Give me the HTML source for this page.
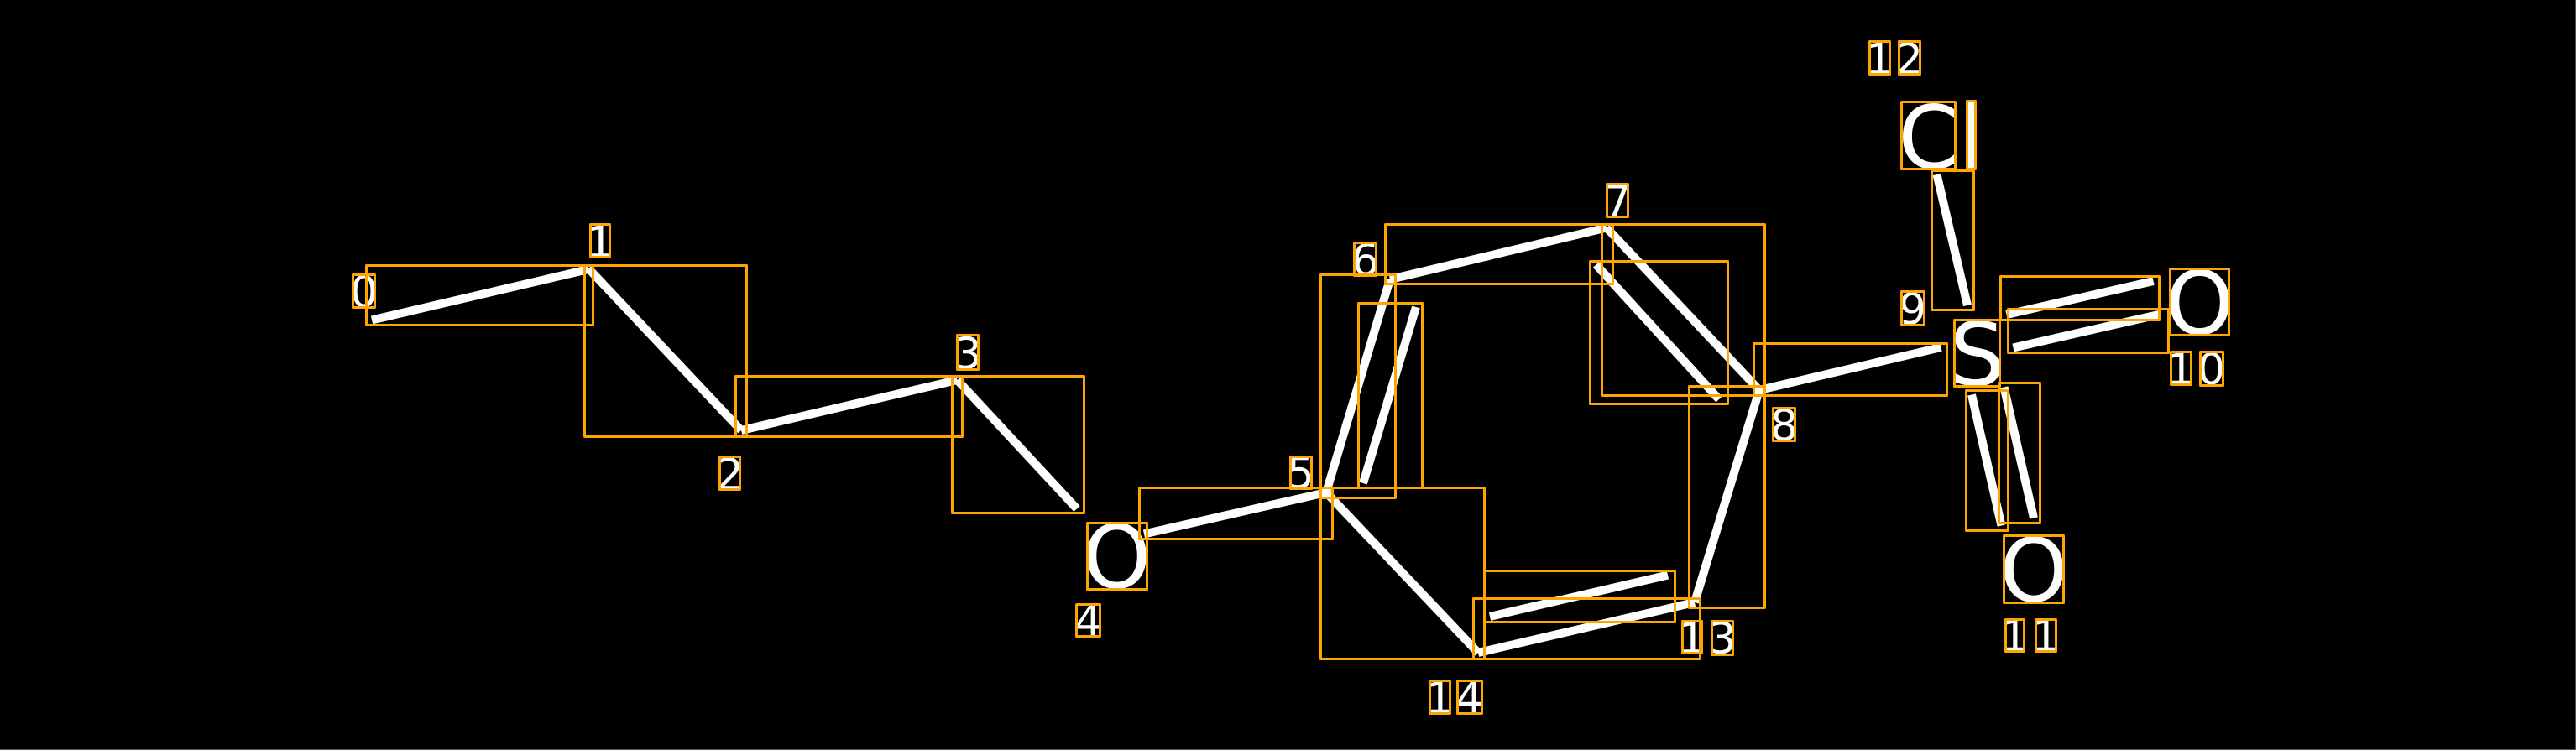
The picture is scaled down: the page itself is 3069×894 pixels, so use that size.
<!DOCTYPE html>
<html><head><meta charset="utf-8"><style>
html,body{margin:0;padding:0;background:#000;width:3069px;height:894px;overflow:hidden}
svg{display:block}
text{font-family:"DejaVu Sans","Liberation Sans",sans-serif;fill:#fff;text-anchor:middle}
.n{font-size:52px}
.a{font-size:104px}
.w line{stroke:#fff;stroke-width:10}
.o rect{fill:none;stroke:#ffa500;stroke-width:3;stroke-linejoin:round}
</style></head><body>
<svg width="3069" height="894" viewBox="0 0 3069 894" xmlns="http://www.w3.org/2000/svg">
<rect width="3069" height="894" fill="#000"/>
<rect x="3068" y="0" width="1" height="894" fill="#555"/>
<rect x="0" y="893" width="3069" height="1" fill="#555"/>
<g class="w">
<line x1="443" y1="381.5" x2="701" y2="321"/>
<line x1="701" y1="320" x2="883" y2="513"/>
<line x1="883" y1="513" x2="1140.5" y2="453"/>
<line x1="1140.5" y1="453" x2="1283" y2="606.5"/>
<line x1="1363" y1="636.5" x2="1580" y2="587"/>
<line x1="1580" y1="587" x2="1761" y2="778"/>
<line x1="1761" y1="778" x2="2019" y2="718"/>
<line x1="1775" y1="735" x2="1987" y2="685.5"/>
<line x1="2019" y1="718" x2="2096" y2="465"/>
<line x1="1580" y1="587" x2="1656" y2="333"/>
<line x1="1624" y1="576" x2="1687" y2="366"/>
<line x1="1656" y1="333" x2="1914" y2="271.5"/>
<line x1="1914" y1="271.5" x2="2096" y2="465"/>
<line x1="1901.5" y1="315.5" x2="2048" y2="476"/>
<line x1="2096" y1="465" x2="2312.5" y2="414"/>
<line x1="2307.5" y1="208" x2="2344" y2="364"/>
<line x1="2390.5" y1="375" x2="2565.5" y2="335"/>
<line x1="2398.5" y1="414.5" x2="2574" y2="374.5"/>
<line x1="2349" y1="470.5" x2="2384.5" y2="626.5"/>
<line x1="2387.5" y1="461.5" x2="2423" y2="617.5"/>
</g>
<g>
<text class="n" x="433.5" y="366">0</text>
<text class="n" x="715" y="306.5">1</text>
<text class="n" x="869.5" y="583.5">2</text>
<text class="n" x="1153" y="439.5">3</text>
<text class="n" x="1296.5" y="758.5">4</text>
<text class="n" x="1549.5" y="582">5</text>
<text class="n" x="1626.5" y="328">6</text>
<text class="n" x="1927" y="258">7</text>
<text class="n" x="2125.5" y="525">8</text>
<text class="n" x="2278.5" y="386.5">9</text>
<text class="n" x="2598" y="458">1</text>
<text class="n" x="2634.5" y="458">0</text>
<text class="n" x="2400" y="776">1</text>
<text class="n" x="2437" y="776">1</text>
<text class="n" x="2239" y="88.5">1</text>
<text class="n" x="2274.5" y="88.5">2</text>
<text class="n" x="2016" y="778.5">1</text>
<text class="n" x="2052" y="779">3</text>
<text class="n" x="1715" y="850">1</text>
<text class="n" x="1750.5" y="850">4</text>
<text class="a" x="1330.5" y="700.5">O</text>
<text class="a" x="2355.5" y="459">S</text>
<text class="a" x="2620.5" y="398">O</text>
<text class="a" x="2423" y="716.5">O</text>
<text class="a" x="2297.5" y="200.5">C</text>
<text class="a" x="2348.3" y="200.5">l</text>
</g>
<g class="o">
<rect x="436.5" y="316.5" width="270" height="71"/>
<rect x="696.5" y="316.5" width="193" height="204"/>
<rect x="876.5" y="448.5" width="270" height="72"/>
<rect x="1134.5" y="448.5" width="157" height="163"/>
<rect x="1357.5" y="581.5" width="230" height="61"/>
<rect x="1573.5" y="581.5" width="195" height="204"/>
<rect x="1755.5" y="713.5" width="270" height="72"/>
<rect x="1768.5" y="680.5" width="227" height="61"/>
<rect x="2012.5" y="460.5" width="90" height="264"/>
<rect x="1573.5" y="327.5" width="89" height="266"/>
<rect x="1618.5" y="361.5" width="76" height="220"/>
<rect x="1650.5" y="267.5" width="271" height="71"/>
<rect x="1908.5" y="267.5" width="194" height="204"/>
<rect x="1894.5" y="311.5" width="164" height="170"/>
<rect x="2089.5" y="409.5" width="230" height="62"/>
<rect x="2301.5" y="203.5" width="50" height="166"/>
<rect x="2383.5" y="329.5" width="189" height="52"/>
<rect x="2392.5" y="368.5" width="191" height="52"/>
<rect x="2342.5" y="465.5" width="50" height="167"/>
<rect x="2381.5" y="456.5" width="49" height="167"/>
<rect x="420.5" y="327.5" width="26" height="39"/>
<rect x="703.5" y="267.5" width="23" height="39"/>
<rect x="857.5" y="544.5" width="24" height="39"/>
<rect x="1140.5" y="399.5" width="25" height="41"/>
<rect x="1282.5" y="720.5" width="28" height="38"/>
<rect x="1537.5" y="544.5" width="25" height="38"/>
<rect x="1613.5" y="289.5" width="26" height="39"/>
<rect x="1914.5" y="219.5" width="25" height="39"/>
<rect x="2112.5" y="486.5" width="26" height="39"/>
<rect x="2265.5" y="347.5" width="27" height="40"/>
<rect x="2586.5" y="419.5" width="24" height="39"/>
<rect x="2621.5" y="419.5" width="27" height="40"/>
<rect x="2389.5" y="738.5" width="22" height="38"/>
<rect x="2425.5" y="738.5" width="24" height="38"/>
<rect x="2227.5" y="49.5" width="24" height="39"/>
<rect x="2262.5" y="49.5" width="25" height="39"/>
<rect x="2004.5" y="740.5" width="23" height="38"/>
<rect x="2039.5" y="740.5" width="25" height="40"/>
<rect x="1703.5" y="811.5" width="24" height="39"/>
<rect x="1736.5" y="811.5" width="29" height="39"/>
<rect x="1295.5" y="623.5" width="71" height="79"/>
<rect x="2328.5" y="381.5" width="54" height="79"/>
<rect x="2585.5" y="320.5" width="70" height="79"/>
<rect x="2387.5" y="638.5" width="71" height="80"/>
<rect x="2265.5" y="121.5" width="64" height="80"/>
<rect x="2343.5" y="120.5" width="10" height="81"/>
</g>
</svg>
</body></html>
